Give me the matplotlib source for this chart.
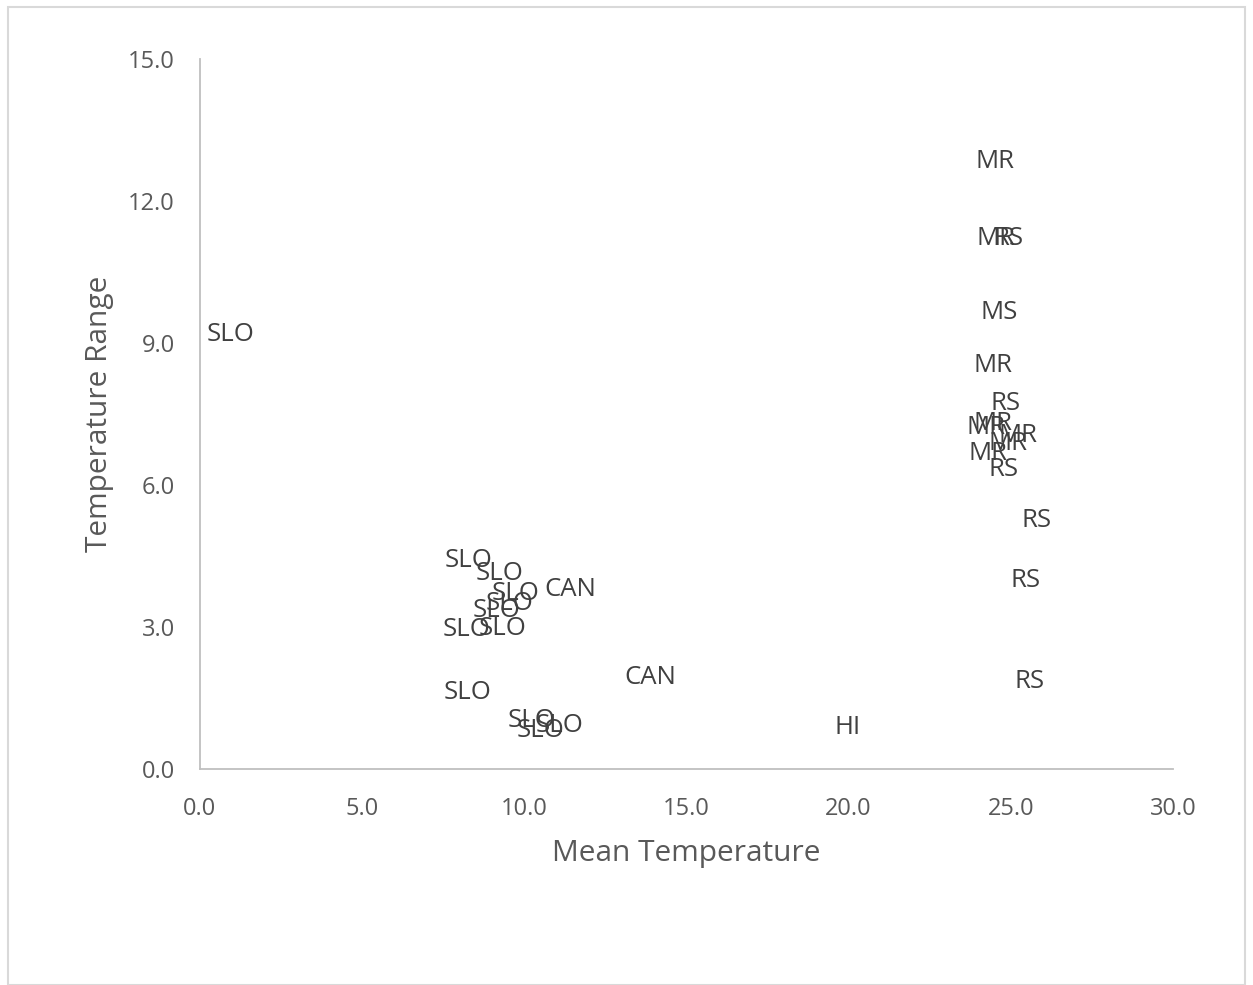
import matplotlib
matplotlib.use("Agg")
import matplotlib.pyplot as plt
from matplotlib.patches import Rectangle

# data labels (site code) with mean temperature and temperature range
slo_x = [0.95, 8.28, 9.23, 9.72, 9.54, 9.14, 9.32, 8.22, 8.25, 10.22, 10.49, 11.08]
slo_y = [9.25, 4.46, 4.20, 3.78, 3.57, 3.42, 3.04, 3.00, 1.69, 1.08, 0.87, 0.99]
can_x = [11.42, 13.88]
can_y = [3.85, 1.99]
hi_x = [19.97]
hi_y = [0.95]
mr_x = [24.52, 24.55, 24.46, 24.46, 24.22, 25.23, 24.92, 24.31]
mr_y = [12.89, 11.28, 8.58, 7.37, 7.27, 7.10, 6.93, 6.72]
ms_x = [24.65]
ms_y = [9.70]
rs_x = [24.92, 24.83, 24.77, 25.78, 25.45, 25.57]
rs_y = [11.28, 7.78, 6.40, 5.32, 4.04, 1.92]

x_ticks = [0, 5, 10, 15, 20, 25, 30]
y_ticks = [0, 3, 6, 9, 12, 15]

plt.rcParams['font.family'] = ['Open Sans', 'DejaVu Sans']

fig = plt.figure(figsize=(12.53, 9.85), dpi=100)
ax = fig.add_axes([200/1253, 1-769/985, 973/1253, 710/985])

groups = [("SLO", slo_x, slo_y), ("CAN", can_x, can_y), ("HI", hi_x, hi_y),
          ("MR", mr_x, mr_y), ("MS", ms_x, ms_y), ("RS", rs_x, rs_y)]
for name, xs, ys in groups:
    for x, y in zip(xs, ys):
        ax.text(x, y, name, ha='center', va='center_baseline', fontsize=18.5, color='#404040')

ax.set_xlim(0, 30)
ax.set_ylim(0, 15)
ax.set_xticks(x_ticks)
ax.set_yticks(y_ticks)
ax.set_xticklabels(["%.1f" % v for v in x_ticks])
ax.set_yticklabels(["%.1f" % v for v in y_ticks])
ax.tick_params(length=0, labelsize=17, labelcolor='#595959')
ax.tick_params(axis='x', pad=20)
ax.tick_params(axis='y', pad=18)
for s in ['top', 'right']:
    ax.spines[s].set_visible(False)
for s in ['left', 'bottom']:
    ax.spines[s].set_color('#bfbfbf')
    ax.spines[s].set_linewidth(1.3)

ax.set_xlabel("Mean Temperature", fontsize=21.5, color='#595959', labelpad=13)
ax.set_ylabel("Temperature Range", fontsize=21.5, color='#595959', labelpad=10)

fig.patches.append(Rectangle((8/1253, 0), 1237/1253, 1-7/985, transform=fig.transFigure,
                             fill=False, edgecolor='#d9d9d9', linewidth=1.5))

fig.savefig("out.png", dpi=100)
